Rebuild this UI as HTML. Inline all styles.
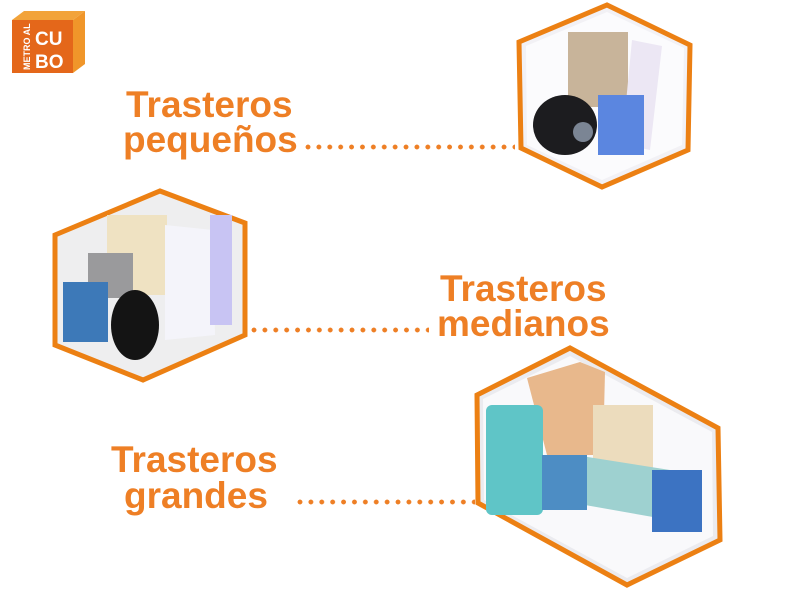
<!DOCTYPE html>
<html><head><meta charset="utf-8"><style>
body{margin:0;width:800px;height:600px;background:#fff;overflow:hidden;position:relative;font-family:"Liberation Sans",sans-serif}
.t{position:absolute;color:#ee7f25;font-weight:bold;font-size:37px;line-height:37px;letter-spacing:0px}
.d{position:absolute;height:6px;background:radial-gradient(circle at 3px 3px,#ee7f25 2.2px,transparent 2.6px);background-size:10.9px 6px}
</style></head><body>
<svg width="800" height="600" style="position:absolute;left:0;top:0">
<polygon points="12,20 24,11 85,11 73,20" fill="#f2a33a"/>
<polygon points="73,20 85,11 85,64 73,73" fill="#f0962a"/>
<rect x="12" y="20" width="61" height="53" fill="#e4671a"/>
<text x="30" y="70" transform="rotate(-90 30 70)" font-family="Liberation Sans" font-weight="bold" font-size="9" fill="#fff">METRO AL</text>
<text x="35" y="45" font-family="Liberation Sans" font-weight="bold" font-size="19" fill="#fff">CU</text>
<text x="35" y="68" font-family="Liberation Sans" font-weight="bold" font-size="19" fill="#fff">BO</text>
<polygon points="607,5 690,45 688,150 602,187 521,148 519,42" fill="#f2f1f5" stroke="#ec8013" stroke-width="5"/>
<polygon points="607,12 684,48 682,145 602,180 527,145 526,46" fill="#fbfbfd"/>
<rect x="568" y="32" width="60" height="75" fill="#c8b49a"/>
<polygon points="632,40 662,46 650,150 622,144" fill="#ece7f4"/>
<ellipse cx="565" cy="125" rx="32" ry="30" fill="#1c1c1f"/>
<circle cx="583" cy="132" r="10" fill="#7b8594"/>
<rect x="598" y="95" width="46" height="60" fill="#5b86e0"/>
<polygon points="160,191 245,223 245,335 143,380 55,345 55,235" fill="#eeeeef" stroke="#ec8013" stroke-width="5"/>
<rect x="107" y="215" width="60" height="80" fill="#efe2c2"/>
<rect x="88" y="253" width="45" height="45" fill="#9a9a9c"/>
<polygon points="165,225 213,230 215,335 165,340" fill="#f4f4fa"/>
<rect x="210" y="215" width="22" height="110" fill="#c8c4f3"/>
<rect x="63" y="282" width="45" height="60" fill="#3d79b8"/>
<ellipse cx="135" cy="325" rx="24" ry="35" fill="#141414"/>
<polygon points="570,348 718,428 720,540 627,585 478,503 477,395" fill="#ebebef" stroke="#ec8013" stroke-width="5"/>
<polygon points="570,356 712,432 713,536 627,578 484,500 483,399" fill="#f9f9fb"/>
<polygon points="527,378 580,362 605,372 603,455 547,455" fill="#e8b88c"/>
<rect x="486" y="405" width="57" height="110" rx="6" fill="#5fc5c7"/>
<rect x="593" y="405" width="60" height="70" fill="#ecdcbd"/>
<polygon points="575,455 670,470 670,520 585,505" fill="#9ed1d0"/>
<rect x="542" y="455" width="45" height="55" fill="#4d8dc4"/>
<rect x="652" y="470" width="50" height="62" fill="#3c73c2"/>
</svg>
<div class="t" style="left:126px;top:86px">Trasteros</div>
<div class="t" style="left:123px;top:121px">pequeños</div>
<div class="d" style="left:305px;top:144px;width:210px"></div>
<div class="t" style="left:440px;top:270px">Trasteros</div>
<div class="t" style="left:437px;top:305px">medianos</div>
<div class="d" style="left:251px;top:327px;width:178px"></div>
<div class="t" style="left:111px;top:441px">Trasteros</div>
<div class="t" style="left:124px;top:477px">grandes</div>
<div class="d" style="left:297px;top:499px;width:178px"></div>
</body></html>
